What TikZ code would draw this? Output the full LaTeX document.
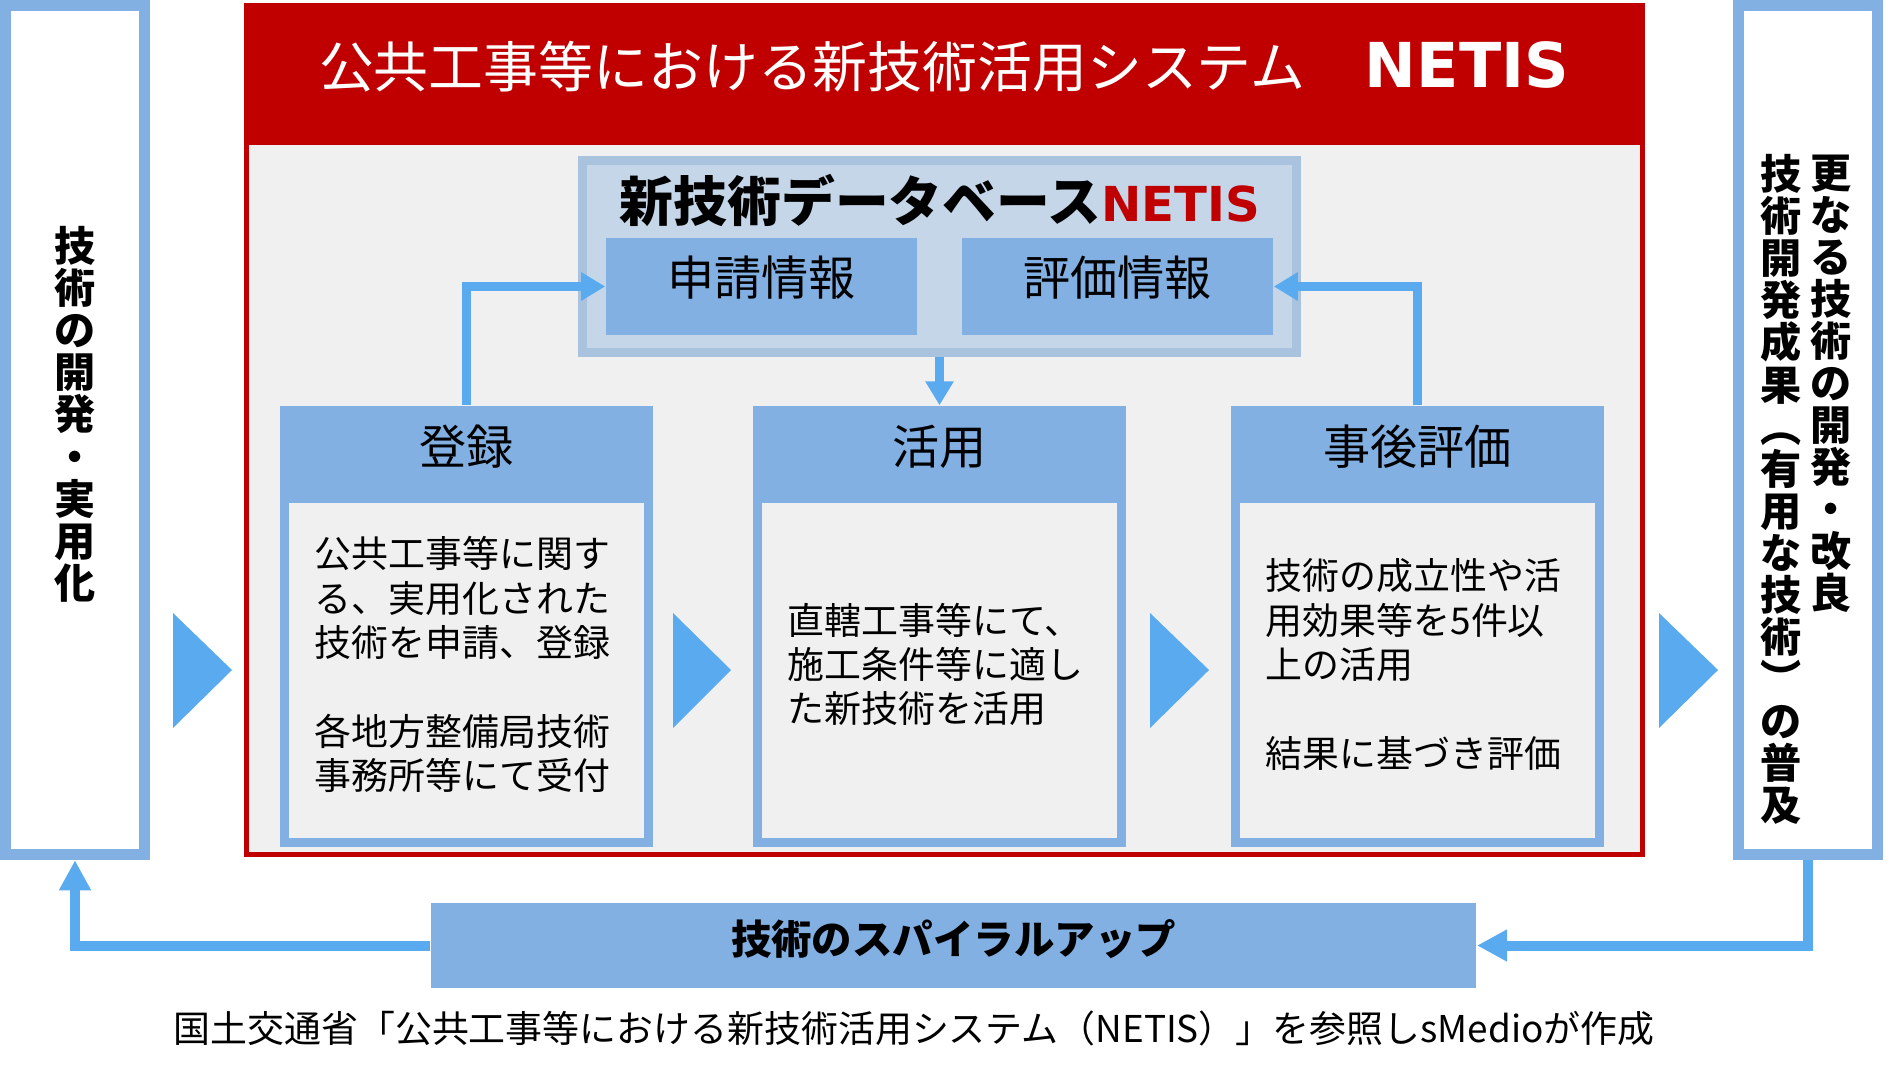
\documentclass[tikz,border=0pt]{standalone}
\usepackage{fontspec}
\setmainfont{Noto Sans CJK JP}
\newfontfamily\netisfont{DejaVu Sans Bold}
\usepackage{tikz}
\usetikzlibrary{arrows.meta}
\definecolor{netisred}{HTML}{C00000}
\definecolor{boxblue}{HTML}{82B0E3}
\definecolor{arrowblue}{HTML}{5AAAF0}
\definecolor{panel}{HTML}{F0F0F0}
\definecolor{dbfill}{HTML}{C4D6E8}
\definecolor{dbline}{HTML}{A9C3DF}
\tikzset{
  sidebox/.style={draw=boxblue, line width=0.11cm, fill=white, minimum width=1.39cm, minimum height=8.49cm, inner sep=0pt},
  vtext/.style={anchor=north, align=center, inner sep=0pt, font=\bfseries\fontsize{11.7pt}{11.95pt}\selectfont},
  netisframe/.style={draw=netisred, line width=0.05cm, fill=panel, minimum width=13.96cm, minimum height=8.49cm, inner sep=0pt},
  banner/.style={fill=netisred, minimum width=14.01cm, minimum height=1.42cm, inner sep=0pt},
  bannertext/.style={text=white, inner sep=0pt, font=\fontsize{15.6pt}{18pt}\selectfont},
  database/.style={draw=dbline, line width=0.09cm, fill=dbfill, minimum width=7.14cm, minimum height=1.92cm, inner sep=0pt},
  dbtitle/.style={inner sep=0pt, font=\bfseries\fontsize{15.3pt}{18pt}\selectfont},
  record/.style={fill=boxblue, minimum width=3.11cm, minimum height=0.97cm, inner sep=0pt, text height=0.88em, text depth=0.34em, font=\fontsize{13.4pt}{16pt}\selectfont},
  stagehead/.style={fill=boxblue, minimum width=3.73cm, minimum height=0.97cm, inner sep=0pt, text height=0.88em, text depth=0.34em, font=\fontsize{13.4pt}{16pt}\selectfont},
  stagebody/.style={draw=boxblue, line width=0.09cm, fill=panel, minimum width=3.64cm, minimum height=3.44cm, inner sep=0pt},
  bodytext/.style={inner sep=0pt, text width=3.03cm, align=left, font=\fontsize{10.5pt}{12.6pt}\selectfont},
  spiral/.style={fill=boxblue, minimum width=10.45cm, minimum height=0.85cm, inner sep=0pt, text height=0.88em, text depth=0.38em, font=\bfseries\fontsize{11.5pt}{14pt}\selectfont},
  source/.style={inner sep=0pt, font=\fontsize{10.5pt}{12pt}\selectfont},
  chevron/.style={fill=arrowblue},
  link/.style={draw=arrowblue, line width=0.09cm, -{Triangle[length=0.24cm, width=0.27cm]}},
  feedback/.style={draw=arrowblue, line width=0.1cm, -{Triangle[length=0.3cm, width=0.3cm]}}
}

\begin{document}
\begin{tikzpicture}[x=0.01cm, y=-0.01cm]
  \useasboundingbox (0,0) rectangle (1889,1076);

  \node[sidebox] (develop) at (75,430) {};
  \node[vtext] (developtext) at (75,226) {技\\術\\の\\開\\発\\・\\実\\用\\化};
  \node[sidebox] (spread) at (1808,430) {};
  \node[vtext] (spreadright) at (1831,154) {更\\な\\る\\技\\術\\の\\開\\発\\・\\改\\良};
  \node[vtext] (spreadleft) at (1781,154) {技\\術\\開\\発\\成\\果\\︵\\有\\用\\な\\技\\術\\︶\\の\\普\\及};

  \node[netisframe] (netis) at (944.5,430) {};
  \node[banner] (banner) at (944.5,74) {};
  \node[bannertext] (title) at (944,67)
    {公共工事等における新技術活用システム\hspace{0.6cm}{\netisfont\fontsize{17.6pt}{18pt}\selectfont NETIS}};

  \node[database] (db) at (939.5,256.5) {};
  \node[dbtitle] (dbtitle) at (940,200)
    {新技術データベース{\color{netisred}\netisfont\fontsize{13.7pt}{16pt}\selectfont NETIS}};
  \node[record] (apply) at (761.5,286.5) {申請情報};
  \node[record] (rating) at (1117.5,286.5) {評価情報};

  \node[stagebody] (regbody) at (466.5,670.5) {};
  \node[bodytext] (regtext) at (466.5,664.5)
    {公共工事等に関す\\る、実用化された\\技術を申請、登録\\[12.6pt]各地方整備局技術\\事務所等にて受付};
  \node[stagehead] (reg) at (466.5,454.5) {登録};
  \node[stagebody] (usebody) at (939.5,670.5) {};
  \node[bodytext] (usetext) at (939.5,664.5)
    {直轄工事等にて、\\施工条件等に適し\\た新技術を活用};
  \node[stagehead] (use) at (939.5,454.5) {活用};
  \node[stagebody] (evalbody) at (1417.5,670.5) {};
  \node[bodytext] (evaltext) at (1417.5,664.5)
    {技術の成立性や活\\用効果等を5件以\\上の活用\\[12.6pt]結果に基づき評価};
  \node[stagehead] (eval) at (1417.5,454.5) {事後評価};

  \fill[chevron] (173,613) -- (232,670) -- (173,728) -- cycle;
  \fill[chevron] (673,613) -- (731,670) -- (673,728) -- cycle;
  \fill[chevron] (1150,613) -- (1209,670) -- (1150,728) -- cycle;
  \fill[chevron] (1659,613) -- (1718,670) -- (1659,728) -- cycle;

  \draw[link] (reg.north) |- (apply.west);
  \draw[link] (eval.north) |- (rating.east);
  \draw[link] (db.south) -- (use.north);

  \node[spiral] (spiralup) at (953.5,945.5) {技術のスパイラルアップ};
  \draw[feedback] (spiralup.west) -| (develop.south);
  \draw[feedback] (spread.south) |- (spiralup.east);

  \node[source] (source) at (914,1028)
    {国土交通省「公共工事等における新技術活用システム（NETIS）」を参照しsMedioが作成};
\end{tikzpicture}
\end{document}
